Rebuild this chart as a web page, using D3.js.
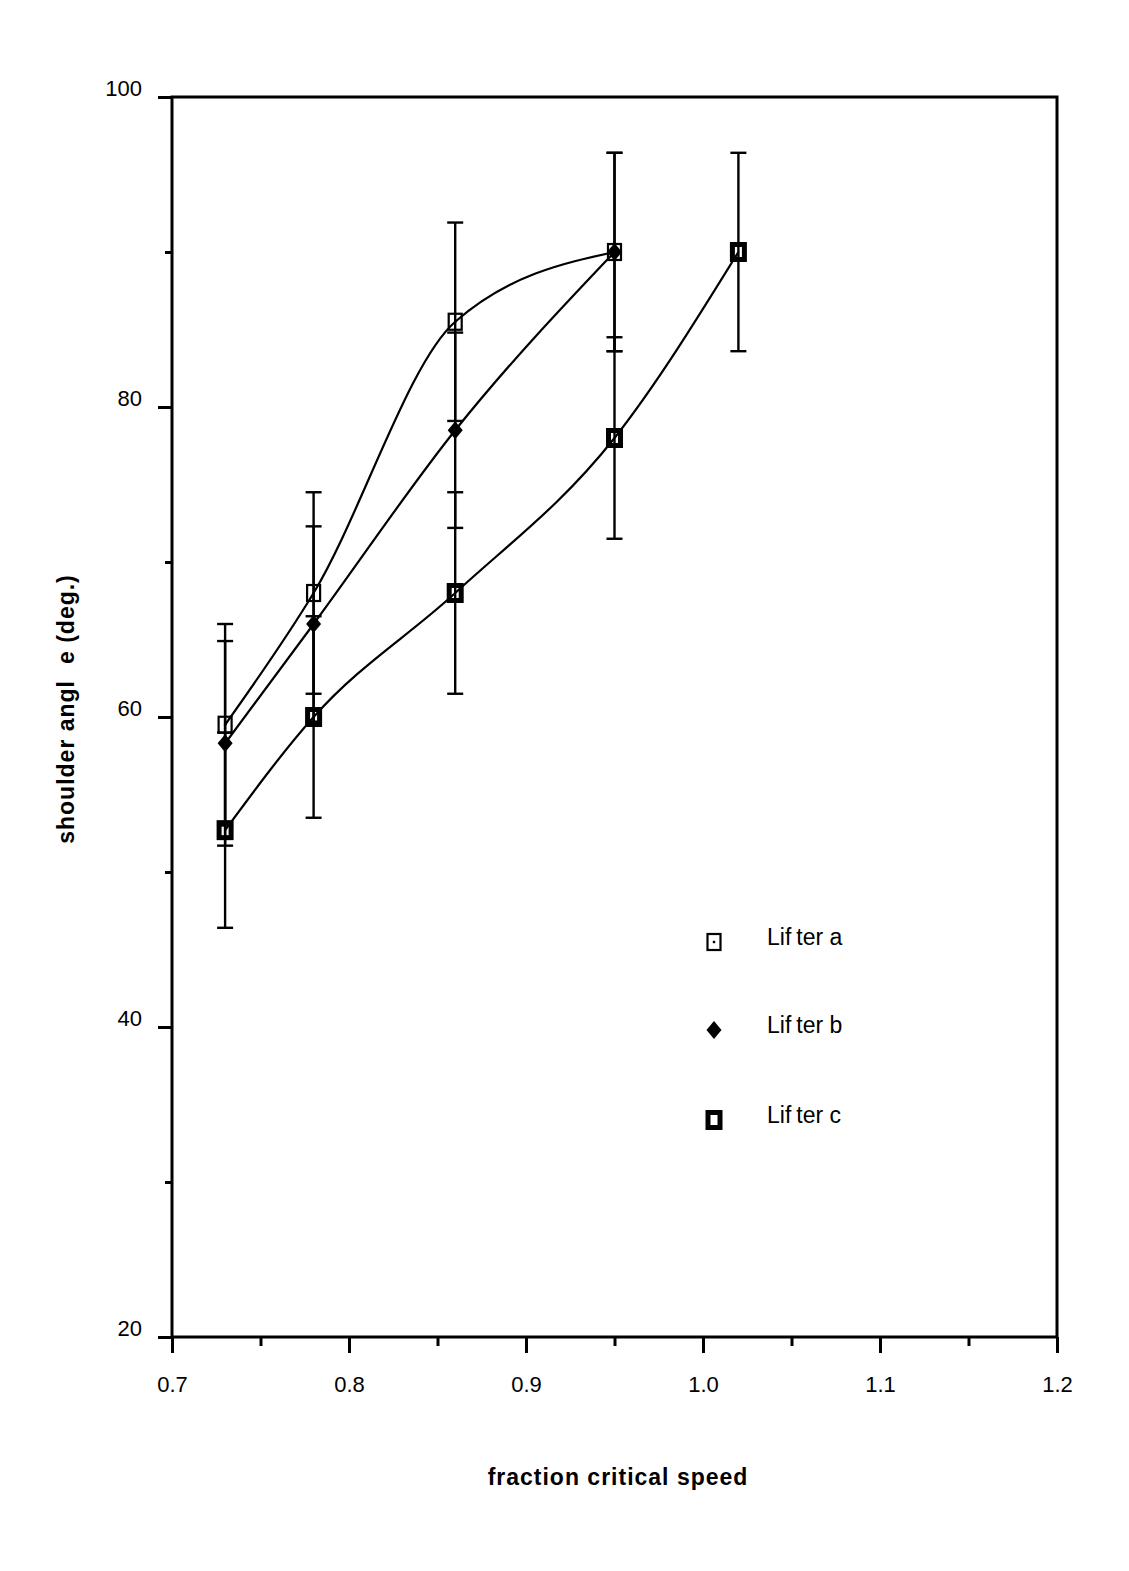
<!DOCTYPE html>
<html>
<head>
<meta charset="utf-8">
<script src="https://cdn.jsdelivr.net/npm/d3@7"></script>
<style>
  html, body { margin: 0; padding: 0; background: #fff; }
  svg { display: block; }
  text { font-family: "Liberation Sans", Arial, sans-serif; fill: #000; }
</style>
</head>
<body>
<svg id="chart" width="1129" height="1571"></svg>
<script>
// ---- data ----
const xA = [0.73, 0.78, 0.86, 0.95];
const yA = [59.5, 68, 85.5, 90];
const eA = [6.5, 6.5, 6.4, 6.4];

const xB = [0.73, 0.78, 0.86, 0.95];
const yB = [58.3, 66, 78.5, 90];
const eB = [6.6, 6.3, 6.3, 6.4];

const xC = [0.73, 0.78, 0.86, 0.95, 1.02];
const yC = [52.7, 60, 68, 78, 90];
const eC = [6.3, 6.5, 6.5, 6.5, 6.4];

const xTicks = [0.7, 0.8, 0.9, 1.0, 1.1, 1.2];
const xTickLabels = ["0.7", "0.8", "0.9", "1.0", "1.1", "1.2"];
const xMinorTicks = [0.75, 0.85, 0.95, 1.05, 1.15];
const yTicks = [20, 40, 60, 80, 100];
const yMinorTicks = [30, 50, 70, 90];
const legendNames = ["Lifter a", "Lifter b", "Lifter c"];

// ---- layout ----
const svg = d3.select("#chart");
const L = 172, R = 1057, T = 97, B = 1337;
const x = d3.scaleLinear().domain([0.7, 1.2]).range([L, R]);
const y = d3.scaleLinear().domain([20, 100]).range([B, T]);

const series = [
  { xs: xA, ys: yA, es: eA, type: "a" },
  { xs: xB, ys: yB, es: eB, type: "b" },
  { xs: xC, ys: yC, es: eC, type: "c" }
];

// frame
svg.append("rect").attr("x", L).attr("y", T).attr("width", R - L).attr("height", B - T)
  .attr("fill", "none").attr("stroke", "#000").attr("stroke-width", 3);

// x axis
const xAxis = d3.axisBottom(x).tickValues(xTicks).tickFormat((d, i) => xTickLabels[i])
  .tickSize(16).tickPadding(23);
const gx = svg.append("g").attr("transform", `translate(0,${B})`).call(xAxis);
gx.select(".domain").remove();
gx.selectAll(".tick line").attr("stroke", "#000").attr("stroke-width", 3);
gx.selectAll(".tick text").style("font-size", "22px").style("font-family", "Liberation Sans, Arial, sans-serif");
const gxm = svg.append("g").attr("transform", `translate(0,${B})`)
  .call(d3.axisBottom(x).tickValues(xMinorTicks).tickSize(9).tickFormat(""));
gxm.select(".domain").remove();
gxm.selectAll(".tick line").attr("stroke", "#000").attr("stroke-width", 3);

// y axis
const yAxis = d3.axisLeft(y).tickValues(yTicks).tickFormat(d3.format("d")).tickSize(14).tickPadding(16);
const gy = svg.append("g").attr("transform", `translate(${L},0)`).call(yAxis);
gy.select(".domain").remove();
gy.selectAll(".tick line").attr("stroke", "#000").attr("stroke-width", 3);
gy.selectAll(".tick text").style("font-size", "22px").attr("dy", "-0.08em")
  .style("font-family", "Liberation Sans, Arial, sans-serif");
const gym = svg.append("g").attr("transform", `translate(${L},0)`)
  .call(d3.axisLeft(y).tickValues(yMinorTicks).tickSize(7).tickFormat(""));
gym.select(".domain").remove();
gym.selectAll(".tick line").attr("stroke", "#000").attr("stroke-width", 3);

// curves
const line = d3.line().x(d => x(d[0])).y(d => y(d[1])).curve(d3.curveMonotoneX);
series.forEach(s => {
  const pts = s.xs.map((v, i) => [v, s.ys[i]]);
  svg.append("path").attr("d", line(pts)).attr("fill", "none")
    .attr("stroke", "#000").attr("stroke-width", 2.2);
});

// error bars
series.forEach(s => {
  s.xs.forEach((v, i) => {
    const cx = x(v), hi = y(s.ys[i] + s.es[i]), lo = y(s.ys[i] - s.es[i]);
    const g = svg.append("g").attr("stroke", "#000").attr("stroke-width", 2.4);
    g.append("line").attr("x1", cx).attr("x2", cx).attr("y1", hi).attr("y2", lo);
    g.append("line").attr("x1", cx - 8).attr("x2", cx + 8).attr("y1", hi).attr("y2", hi);
    g.append("line").attr("x1", cx - 8).attr("x2", cx + 8).attr("y1", lo).attr("y2", lo);
  });
});

// markers
function drawMarker(type, cx, cy) {
  if (type === "a") {
    svg.append("rect").attr("x", cx - 6.5).attr("y", cy - 8).attr("width", 13).attr("height", 16)
      .attr("fill", "none").attr("stroke", "#000").attr("stroke-width", 2.2);
    svg.append("rect").attr("x", cx - 1.2).attr("y", cy - 1.2).attr("width", 2.4).attr("height", 2.4).attr("fill", "#000");
  } else if (type === "b") {
    svg.append("path").attr("d", `M${cx},${cy - 9}L${cx + 7.5},${cy}L${cx},${cy + 9}L${cx - 7.5},${cy}Z`)
      .attr("fill", "#000");
  } else {
    svg.append("rect").attr("x", cx - 6).attr("y", cy - 7.5).attr("width", 12).attr("height", 15)
      .attr("fill", "none").attr("stroke", "#000").attr("stroke-width", 5);
  }
}
series.forEach(s => {
  s.xs.forEach((v, i) => drawMarker(s.type, x(v), y(s.ys[i])));
});

// legend
const legY = [942, 1030, 1120];
legendNames.forEach((name, i) => {
  drawMarker(series[i].type, 714, legY[i]);
  const t = svg.append("text").attr("x", 767).attr("y", legY[i] + 3).style("font-size", "23px");
  t.append("tspan").text(name.slice(0, 3));
  t.append("tspan").attr("dx", 5).text(name.slice(3));
});

// axis titles
svg.append("text").attr("x", 618).attr("y", 1485).attr("text-anchor", "middle")
  .style("font-size", "23px").style("font-weight", "bold").style("letter-spacing", "1px")
  .text("fraction critical speed");

const yl = svg.append("text").attr("transform", "translate(74,709) rotate(-90)")
  .attr("text-anchor", "middle").style("font-size", "23px").style("font-weight", "bold")
  .style("letter-spacing", "1px");
yl.append("tspan").text("shoulder angl");
yl.append("tspan").attr("dx", 16).text("e (deg.)");
</script>
</body>
</html>
